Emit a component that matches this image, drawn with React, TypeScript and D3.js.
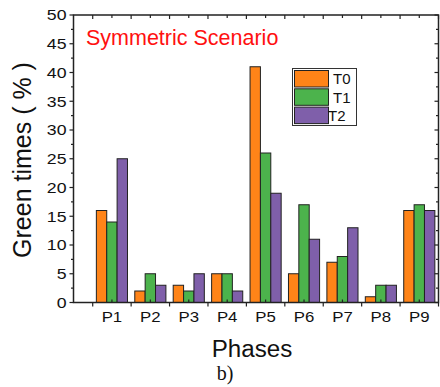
import { useEffect, useRef } from 'react'
import * as d3 from 'd3'

const phases = ['P1', 'P2', 'P3', 'P4', 'P5', 'P6', 'P7', 'P8', 'P9']
const seriesNames = ['T0', 'T1', 'T2']
const t0 = [16, 2, 3, 5, 41, 5, 7, 1, 16]
const t1 = [14, 5, 2, 5, 26, 17, 8, 3, 17]
const t2 = [25, 3, 5, 2, 19, 11, 13, 3, 16]
const colors = ['#ff8418', '#4cb34c', '#7f5faa']
const yTicks = [0, 5, 10, 15, 20, 25, 30, 35, 40, 45, 50]

const App = () => {
  const ref = useRef<SVGSVGElement>(null)

  useEffect(() => {
    const svg = d3.select(ref.current)
    svg.selectAll('*').remove()

    const left = 73.5
    const right = 438.5
    const top = 15
    const bottom = 302.5
    const font = 'Liberation Sans, Arial, sans-serif'

    const x = d3.scaleLinear().domain([0, 9.5]).range([left, right])
    const slot = x(1) - x(0)
    const inner = d3
      .scaleBand()
      .domain(seriesNames)
      .range([-slot * 0.405, slot * 0.405])
    const y = d3.scaleLinear().domain([0, 50]).range([bottom, top])

    const values = [t0, t1, t2]

    // bars
    const g = svg.append('g')
    phases.forEach((p, i) => {
      seriesNames.forEach((s, j) => {
        const v = values[j][i]
        g.append('rect')
          .attr('x', x(i + 1) + inner(s)!)
          .attr('y', y(v))
          .attr('width', inner.bandwidth())
          .attr('height', y(0) - y(v))
          .attr('fill', colors[j])
          .attr('stroke', '#222')
          .attr('stroke-width', 1)
      })
    })

    const ax = svg.append('g').attr('stroke', '#222').attr('stroke-width', 1.2)

    // y ticks (left outward, right inward)
    const minorY = d3.range(2.5, 50, 5)
    yTicks.forEach((v) => {
      ax.append('line').attr('x1', left - 4).attr('x2', left).attr('y1', y(v)).attr('y2', y(v))
      ax.append('line').attr('x1', right - 4).attr('x2', right).attr('y1', y(v)).attr('y2', y(v))
    })
    minorY.forEach((v) => {
      ax.append('line').attr('x1', left - 2.5).attr('x2', left).attr('y1', y(v)).attr('y2', y(v))
      ax.append('line').attr('x1', right - 2.5).attr('x2', right).attr('y1', y(v)).attr('y2', y(v))
    })

    // x ticks: major at boundaries, minor at centres
    const majorX = d3.range(0.5, 9.6, 1)
    const minorX = d3.range(1, 10, 1)
    majorX.forEach((v) => {
      ax.append('line').attr('x1', x(v)).attr('x2', x(v)).attr('y1', bottom).attr('y2', bottom + 4)
      ax.append('line').attr('x1', x(v)).attr('x2', x(v)).attr('y1', top).attr('y2', top + 4)
    })
    minorX.forEach((v) => {
      ax.append('line').attr('x1', x(v)).attr('x2', x(v)).attr('y1', bottom).attr('y2', bottom - 3)
      ax.append('line').attr('x1', x(v)).attr('x2', x(v)).attr('y1', top).attr('y2', top + 3)
    })

    // frame
    ax.append('rect')
      .attr('x', left)
      .attr('y', top)
      .attr('width', right - left)
      .attr('height', bottom - top)
      .attr('fill', 'none')
      .attr('stroke-width', 1.5)

    // tick labels (slightly wide, as in the original)
    svg.append('g')
      .selectAll('text')
      .data(yTicks)
      .enter()
      .append('text')
      .attr('transform', (d) => `translate(${left - 7},${y(d)}) scale(1.18,1)`)
      .attr('dy', '0.36em')
      .attr('text-anchor', 'end')
      .attr('font-family', font)
      .attr('font-size', 15)
      .attr('fill', '#111')
      .text((d) => d)

    svg.append('g')
      .selectAll('text')
      .data(phases)
      .enter()
      .append('text')
      .attr('transform', (d, i) => `translate(${x(i + 1)},322) scale(1.2,1)`)
      .attr('text-anchor', 'middle')
      .attr('font-family', font)
      .attr('font-size', 14)
      .attr('fill', '#111')
      .text((d) => d)

    // axis titles
    svg.append('text')
      .attr('transform', 'translate(252,357) scale(1.05,1)')
      .attr('text-anchor', 'middle')
      .attr('font-family', font)
      .attr('font-size', 23)
      .attr('fill', '#111')
      .text('Phases')

    svg.append('text')
      .attr('transform', 'translate(31,160) rotate(-90)')
      .attr('text-anchor', 'middle')
      .attr('font-family', font)
      .attr('font-size', 25)
      .attr('fill', '#111')
      .text('Green times ( % )')

    svg.append('text')
      .attr('x', 225)
      .attr('y', 380)
      .attr('text-anchor', 'middle')
      .attr('font-family', 'Liberation Serif, Times New Roman, serif')
      .attr('font-size', 20)
      .attr('fill', '#111')
      .text('b)')

    svg.append('text')
      .attr('x', 86)
      .attr('y', 45)
      .attr('font-family', font)
      .attr('font-size', 21.5)
      .attr('fill', '#ff1010')
      .text('Symmetric Scenario')

    // legend
    const lg = svg.append('g')
    lg.append('rect')
      .attr('x', 292.5)
      .attr('y', 68.5)
      .attr('width', 64)
      .attr('height', 57)
      .attr('fill', 'white')
      .attr('stroke', '#333')
      .attr('stroke-width', 1)
    seriesNames.forEach((s, j) => {
      lg.append('rect')
        .attr('x', 294.5)
        .attr('y', 70.5 + j * 18.3)
        .attr('width', 34)
        .attr('height', 16.5)
        .attr('fill', colors[j])
        .attr('stroke', '#222')
        .attr('stroke-width', 1)
      lg.append('text')
        .attr('x', j === 2 ? 328 : 333)
        .attr('y', 78.8 + j * 18.3)
        .attr('dy', '0.36em')
        .attr('font-family', font)
        .attr('font-size', 15)
        .attr('fill', '#111')
        .text(s)
    })
  }, [])

  return (
    <svg
      ref={ref}
      width={440}
      height={387}
      style={{ position: 'absolute', left: 0, top: 0, background: 'white' }}
    />
  )
}

export default App
